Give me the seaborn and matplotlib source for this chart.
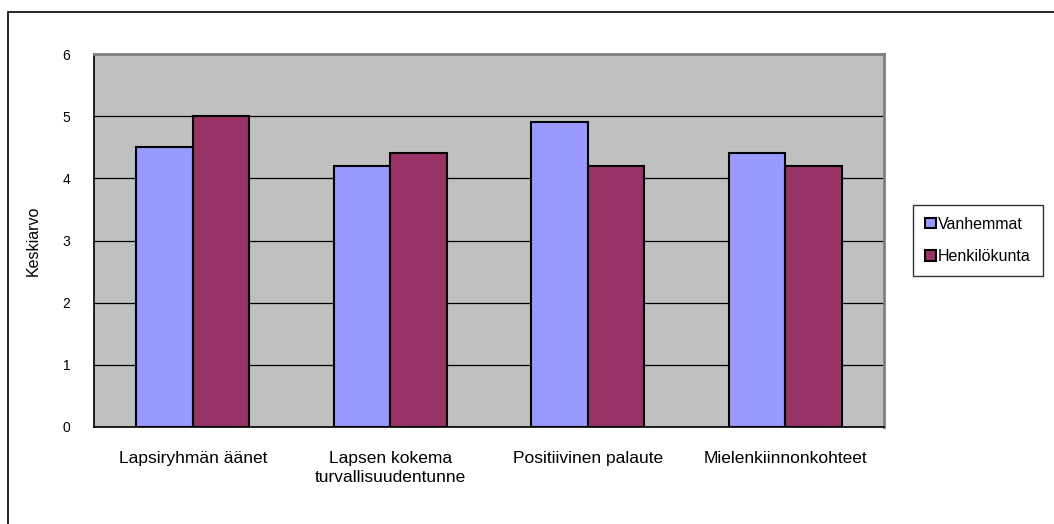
import pandas as pd
import matplotlib.pyplot as plt
import seaborn as sns
from matplotlib.patches import Rectangle
from matplotlib.ticker import FixedLocator

categories = ["Lapsiryhmän äänet", "Lapsen kokema\nturvallisuudentunne",
              "Positiivinen palaute", "Mielenkiinnonkohteet"]
vanhemmat = [4.5, 4.2, 4.9, 4.4]
henkilokunta = [5.0, 4.4, 4.2, 4.2]
series = ["Vanhemmat", "Henkilökunta"]

data = pd.DataFrame({
    "kategoria": categories * 2,
    "arvo": vanhemmat + henkilokunta,
    "ryhma": [series[0]] * 4 + [series[1]] * 4,
})

sns.set_style("white")
plt.rcParams["font.family"] = ["Liberation Sans", "DejaVu Sans"]
plt.rcParams["text.color"] = "black"
plt.rcParams["axes.labelcolor"] = "black"
plt.rcParams["xtick.color"] = "black"
plt.rcParams["ytick.color"] = "black"

fig = plt.figure(figsize=(10.54, 5.24), dpi=100)
ax = fig.add_axes([94 / 1054, 1 - 427 / 524, (884 - 94) / 1054, (427 - 54) / 524])

# outer chart frame
fig.patches.append(Rectangle((8 / 1054, -0.1), 1.2, 1 - 12 / 524 + 0.1,
                             transform=fig.transFigure, fill=False,
                             edgecolor="black", linewidth=1.2))

ax.set_facecolor("#C0C0C0")
sns.barplot(data=data, x="kategoria", y="arvo", hue="ryhma", ax=ax,
            palette=["#9999FF", "#993366"], width=0.571, gap=0,
            edgecolor="black", linewidth=1.5, saturation=1, zorder=3)

ax.set_ylim(0, 6)
ax.set_xlim(-0.5, 3.5)
ax.set_yticks(range(0, 7))
ax.yaxis.grid(True, color="black", linewidth=0.9)
ax.set_axisbelow(True)

ax.xaxis.set_minor_locator(FixedLocator([-0.5, 0.5, 1.5, 2.5, 3.5]))
ax.tick_params(axis="x", which="major", length=0, pad=17, labelsize=12.5)
ax.tick_params(axis="x", which="minor", length=5, width=1, color="black", direction="out")
ax.tick_params(axis="y", length=5, width=1, color="black", direction="out", labelsize=10, pad=12)
for t in ax.get_xticklabels():
    t.set_linespacing(1.35)

for s in ["top", "right"]:
    ax.spines[s].set_color("#808080")
    ax.spines[s].set_linewidth(2)
for s in ["left", "bottom"]:
    ax.spines[s].set_color("black")
    ax.spines[s].set_linewidth(1.2)

ax.set_xlabel("")
ax.set_ylabel("Keskiarvo", fontsize=11.5, labelpad=16)

leg = ax.legend(loc="center left", bbox_to_anchor=(1.027, 0.5), frameon=True,
                fancybox=False, edgecolor="black", fontsize=11.5,
                handlelength=0.65, handleheight=0.65, handletextpad=0.15,
                labelspacing=1.1, borderpad=0.75)
leg.get_frame().set_linewidth(1)
for h in leg.legend_handles:
    h.set_linewidth(1.5)

fig.savefig("out.png", dpi=100)
